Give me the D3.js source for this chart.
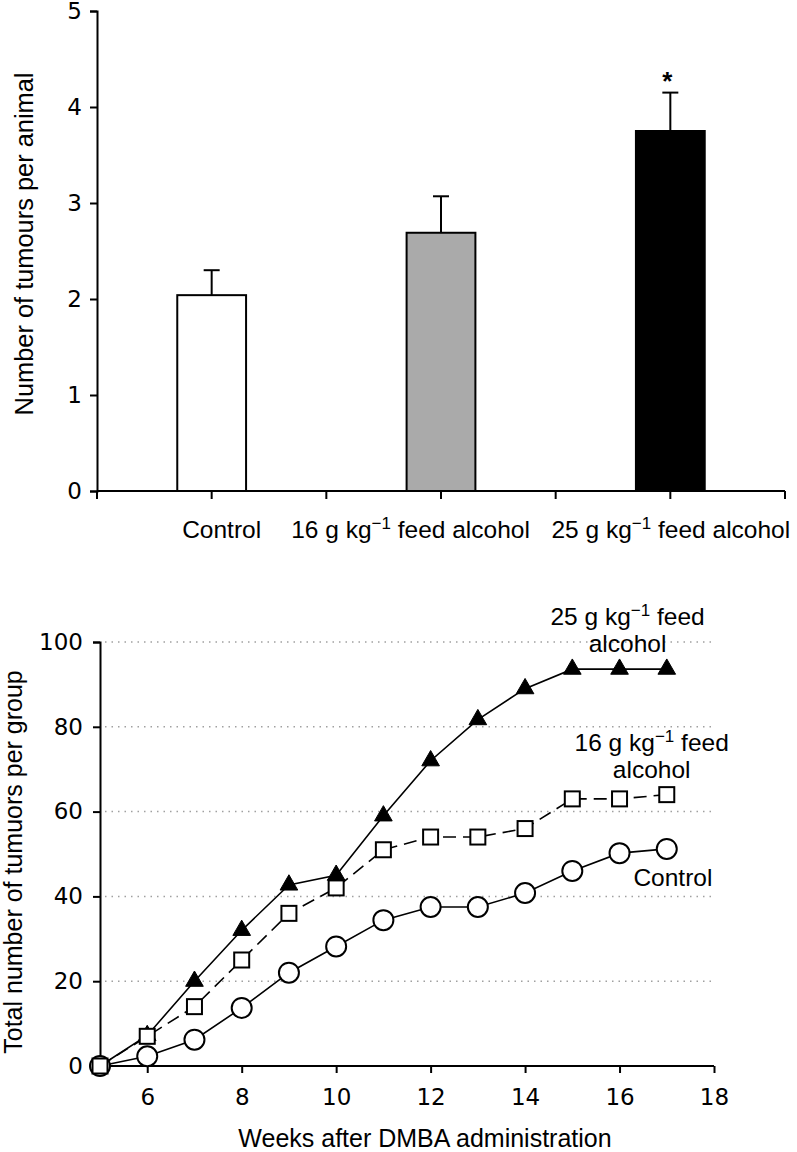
<!DOCTYPE html>
<html>
<head>
<meta charset="utf-8">
<script src="https://cdn.jsdelivr.net/npm/d3@7"></script>
<style>
  html, body { margin: 0; padding: 0; background: #fff; }
  svg { display: block; font-family: "Liberation Sans", Arial, Helvetica, sans-serif; }
</style>
</head>
<body>
<svg id="chart" width="797" height="1152"></svg>
<script>
// ---------- Data: top panel (bar chart) ----------
const barCategories = ["Control", "16 g kg−1 feed alcohol", "25 g kg−1 feed alcohol"];
const barLabelMain  = ["Control", "16 g kg", "25 g kg"];
const barLabelSup   = ["", "−1", "−1"];
const barLabelTail  = ["", " feed alcohol", " feed alcohol"];
const barMeans      = [2.04, 2.69, 3.75];
const barErrors     = [0.26, 0.38, 0.40];
const barSignif     = ["", "", "*"];
const barFills      = ["#ffffff", "#aaaaaa", "#000000"];
const barYTicks     = [0, 1, 2, 3, 4, 5];

// ---------- Data: bottom panel (cumulative lines) ----------
const weeks        = [5, 6, 7, 8, 9, 10, 11, 12, 13, 14, 15, 16, 17];
const controlTotal = [0, 2.3, 6.2, 13.7, 22, 28.2, 34.4, 37.5, 37.5, 40.8, 46, 50.2, 51.2];
const alc16Total   = [0, 7, 14, 25, 36, 42, 51, 54, 54, 56, 63, 63, 64];
const alc25Total   = [0, 7.2, 20, 32, 42.7, 45, 59, 72, 81.7, 89, 93.6, 93.6, 93.6];
const lineXTicks   = [6, 8, 10, 12, 14, 16, 18];
const lineYTicks   = [0, 20, 40, 60, 80, 100];

const svg = d3.select("#chart");
const TICK_FONT = "DejaVu Sans, Liberation Sans, sans-serif";

// ================= TOP PANEL =================
(function () {
  const left = 97, right = 785, top = 11, bottom = 491;
  const y = d3.scaleLinear().domain([0, 5]).range([bottom, top]);
  const x = d3.scaleBand().domain(barCategories).range([left, right])
    .paddingInner(0.7).paddingOuter(0.35);
  const step = x.step();
  const g = svg.append("g");

  // y axis
  const yAxis = d3.axisLeft(y).tickValues(barYTicks).tickSize(7).tickPadding(8)
    .tickFormat(d3.format("d"));
  const ya = g.append("g").attr("transform", `translate(${left},0)`).call(yAxis);
  ya.select(".domain").attr("stroke-width", 2);
  ya.selectAll(".tick line").attr("stroke-width", 2);
  ya.selectAll("text").attr("font-size", 23).attr("fill", "#000")
    .attr("font-family", TICK_FONT);

  const bars = barCategories.map((c, i) => ({ c, m: barMeans[i], e: barErrors[i], f: barFills[i], s: barSignif[i], i }));
  const cx = d => x(d.c) + x.bandwidth() / 2;
  g.selectAll(".err").data(bars).join("line")
    .attr("x1", cx).attr("x2", cx)
    .attr("y1", d => y(d.m)).attr("y2", d => y(d.m + d.e))
    .attr("stroke", "#000").attr("stroke-width", 2);
  g.selectAll(".cap").data(bars).join("line")
    .attr("x1", d => cx(d) - 8).attr("x2", d => cx(d) + 8)
    .attr("y1", d => y(d.m + d.e)).attr("y2", d => y(d.m + d.e))
    .attr("stroke", "#000").attr("stroke-width", 2);
  g.selectAll(".bar").data(bars).join("rect")
    .attr("x", d => x(d.c)).attr("width", x.bandwidth())
    .attr("y", d => y(d.m)).attr("height", d => y(0) - y(d.m))
    .attr("fill", d => d.f).attr("stroke", "#000").attr("stroke-width", 2);
  g.selectAll(".sig").data(bars.filter(d => d.s)).join("text")
    .attr("x", d => cx(d) - 3).attr("y", d => y(d.m + d.e) - 3)
    .attr("text-anchor", "middle").attr("font-size", 26).attr("font-weight", "bold")
    .text(d => d.s);

  // x axis line with ticks at band edges and centres
  const xTickPos = [];
  barCategories.forEach(c => { xTickPos.push(x(c) - (step - x.bandwidth()) / 2); xTickPos.push(x(c) + x.bandwidth() / 2); });
  xTickPos.push(right);
  g.append("line").attr("x1", left).attr("x2", right).attr("y1", bottom).attr("y2", bottom)
    .attr("stroke", "#000").attr("stroke-width", 2);
  g.selectAll(".xt").data(xTickPos).join("line")
    .attr("x1", d => d).attr("x2", d => d).attr("y1", bottom).attr("y2", bottom + 8)
    .attr("stroke", "#000").attr("stroke-width", 2);

  // category labels
  const labelShift = [10, -30.5, 0.5];
  bars.forEach((d, i) => {
    const t = g.append("text")
      .attr("x", cx(d) + labelShift[i]).attr("y", 538)
      .attr("text-anchor", "middle").attr("font-size", 24.5).attr("fill", "#000");
    t.append("tspan").text(barLabelMain[i]);
    if (barLabelSup[i]) {
      t.append("tspan").attr("dy", -9).attr("font-size", 17).text(barLabelSup[i]);
      t.append("tspan").attr("dy", 9).text(barLabelTail[i]);
    }
  });

  // y title
  g.append("text").attr("transform", `translate(33,${(top + bottom) / 2 - 7}) rotate(-90)`)
    .attr("text-anchor", "middle").attr("font-size", 25.4).attr("fill", "#000")
    .text("Number of tumours per animal");
})();

// ================= BOTTOM PANEL =================
(function () {
  const left = 100, right = 714, top = 642, bottom = 1066;
  const x = d3.scaleLinear().domain([5, 18]).range([left, right]);
  const y = d3.scaleLinear().domain([0, 100]).range([bottom, top]);
  const g = svg.append("g");

  // grid
  g.selectAll(".grid").data(lineYTicks.filter(v => v > 0)).join("line")
    .attr("x1", left + 5).attr("x2", right).attr("y1", d => y(d)).attr("y2", d => y(d))
    .attr("stroke", "#a0a0a0").attr("stroke-width", 1.5).attr("stroke-dasharray", "1.5,5");

  // axes
  const xa = g.append("g").attr("transform", `translate(0,${bottom})`)
    .call(d3.axisBottom(x).tickValues(lineXTicks).tickSize(7).tickPadding(16).tickFormat(d3.format("d")));
  xa.select(".domain").attr("stroke-width", 2).attr("d", `M${left},0H${right}`);
  xa.selectAll(".tick line").attr("stroke-width", 2);
  xa.selectAll("text").attr("font-size", 23).attr("fill", "#000")
    .attr("font-family", TICK_FONT);

  const ya = g.append("g").attr("transform", `translate(${left},0)`)
    .call(d3.axisLeft(y).tickValues(lineYTicks).tickSize(7).tickPadding(10).tickFormat(d3.format("d")));
  ya.select(".domain").attr("stroke-width", 2);
  ya.selectAll(".tick line").attr("stroke-width", 2);
  ya.selectAll("text").attr("font-size", 23).attr("fill", "#000")
    .attr("font-family", TICK_FONT);

  const series = [
    { name: "alc25", vals: alc25Total, dash: null, marker: "triangle" },
    { name: "control", vals: controlTotal, dash: null, marker: "circle" },
    { name: "alc16", vals: alc16Total, dash: "13,7", marker: "square" }
  ];
  const line = d3.line().x(d => x(d[0])).y(d => y(d[1]));

  series.forEach(s => {
    const pts = weeks.map((w, i) => [w, s.vals[i]]);
    g.append("path").attr("d", line(pts)).attr("fill", "none")
      .attr("stroke", "#000").attr("stroke-width", 1.6)
      .attr("stroke-dasharray", s.dash);
  });
  series.forEach(s => {
    const pts = weeks.map((w, i) => [w, s.vals[i]]);
    if (s.marker === "circle") {
      g.selectAll(".c-" + s.name).data(pts).join("circle")
        .attr("cx", d => x(d[0])).attr("cy", d => y(d[1])).attr("r", 10)
        .attr("fill", "#fff").attr("stroke", "#000").attr("stroke-width", 2);
    } else if (s.marker === "square") {
      g.selectAll(".s-" + s.name).data(pts).join("rect")
        .attr("x", d => x(d[0]) - 7.5).attr("y", d => y(d[1]) - 7.5)
        .attr("width", 15).attr("height", 15)
        .attr("fill", "#fff").attr("stroke", "#000").attr("stroke-width", 2);
    } else {
      const sym = d3.symbol().type(d3.symbolTriangle).size(135);
      g.selectAll(".t-" + s.name).data(pts).join("path")
        .attr("transform", d => `translate(${x(d[0])},${y(d[1])})`)
        .attr("d", sym).attr("fill", "#000").attr("stroke", "#000").attr("stroke-width", 1);
    }
  });

  // series annotations
  function annot(lines, cxp, baseY) {
    const t = g.append("text").attr("text-anchor", "middle").attr("font-size", 24.5).attr("fill", "#000");
    lines.forEach((ln, k) => {
      const tl = t.append("tspan").attr("x", cxp).attr("y", baseY + k * 27);
      if (Array.isArray(ln)) {
        tl.text(ln[0]);
        tl.append("tspan").attr("dy", -9).attr("font-size", 17).text(ln[1]);
        tl.append("tspan").attr("dy", 9).text(ln[2]);
      } else tl.text(ln);
    });
  }
  annot([[barLabelMain[2], barLabelSup[2], " feed"], "alcohol"], x(16.17), y(104.1));
  annot([[barLabelMain[1], barLabelSup[1], " feed"], "alcohol"], x(16.68), y(74.4));
  annot([barLabelMain[0]], x(17.13), y(42.4));

  // titles
  g.append("text").attr("x", 425).attr("y", 1147)
    .attr("text-anchor", "middle").attr("font-size", 25).attr("fill", "#000")
    .text("Weeks after DMBA administration");
  g.append("text").attr("transform", `translate(22,${(top + bottom) / 2 + 8}) rotate(-90)`)
    .attr("text-anchor", "middle").attr("font-size", 25).attr("fill", "#000")
    .text("Total number of tumuors per group");
})();
</script>
</body>
</html>
